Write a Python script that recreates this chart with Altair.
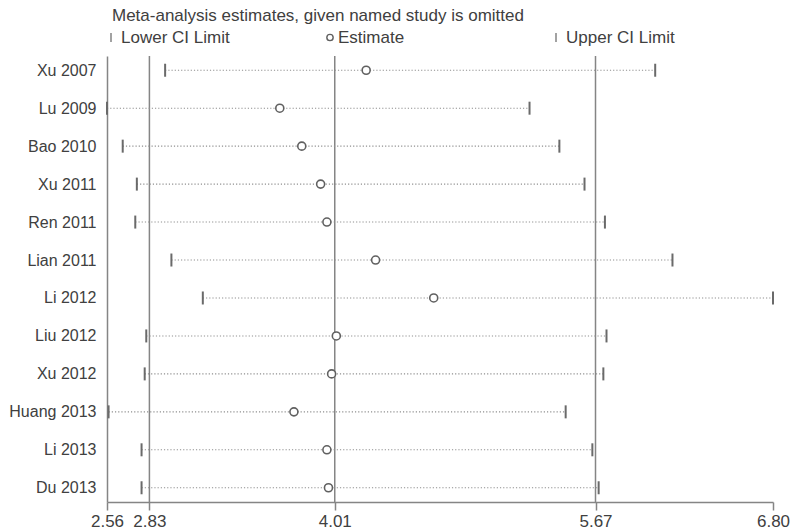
import altair as alt
import pandas as pd

# ---- data ----
studies = ["Xu 2007", "Lu 2009", "Bao 2010", "Xu 2011", "Ren 2011", "Lian 2011",
           "Li 2012", "Liu 2012", "Xu 2012", "Huang 2013", "Li 2013", "Du 2013"]
estimate = [4.21, 3.66, 3.80, 3.92, 3.96, 4.27, 4.64, 4.02, 3.99, 3.75, 3.96, 3.97]
lower = [2.93, 2.56, 2.66, 2.75, 2.74, 2.97, 3.17, 2.81, 2.80, 2.57, 2.78, 2.78]
upper = [6.05, 5.25, 5.44, 5.60, 5.73, 6.16, 6.80, 5.74, 5.72, 5.48, 5.65, 5.69]
ref_lines = [2.83, 4.01, 5.67]
x_ticks = [2.56, 2.83, 4.01, 5.67, 6.80]
title_text = "Meta-analysis estimates, given named study is omitted"
legend_labels = ["Lower CI Limit", "Estimate", "Upper CI Limit"]

FONT = "Liberation Sans"
TXT = "#404040"
LINE = "#858585"
CAP = "#6a6a6a"

df = pd.DataFrame({"study": studies, "estimate": estimate, "lower": lower, "upper": upper})
ref_df = pd.DataFrame({"v": ref_lines})

xscale = alt.Scale(domain=[2.56, 6.80], nice=False, zero=False)
yscale = alt.Scale(type="point", padding=0.375, domain=studies)
xaxis = alt.Axis(values=x_ticks, format=".2f", title=None, grid=False, tickSize=8,
                 labelPadding=3, labelFlush=False, labelFontSize=17)
yaxis = alt.Axis(title=None, grid=False, ticks=False, labelPadding=11, labelFontSize=16)

Y = alt.Y("study:N", scale=yscale, axis=yaxis, sort=studies)

refs = alt.Chart(ref_df).mark_rule(color=LINE, strokeWidth=1.5).encode(
    x=alt.X("v:Q", scale=xscale, axis=xaxis)
)

dots = alt.Chart(df).mark_rule(color="#8f8f8f", strokeWidth=1.1, strokeDash=[1.2, 2]).encode(
    x=alt.X("lower:Q", scale=xscale, axis=xaxis),
    x2="upper:Q",
    y=Y,
)

lo_caps = alt.Chart(df).mark_tick(color=CAP, size=13, thickness=2, opacity=1).encode(
    x=alt.X("lower:Q", scale=xscale, axis=xaxis), y=Y
)
up_caps = alt.Chart(df).mark_tick(color=CAP, size=13, thickness=2, opacity=1).encode(
    x=alt.X("upper:Q", scale=xscale, axis=xaxis), y=Y
)

pts = alt.Chart(df).mark_point(shape="circle", size=64, fill="white", fillOpacity=1,
                               stroke="#606060", strokeWidth=1.6, opacity=1).encode(
    x=alt.X("estimate:Q", scale=xscale, axis=xaxis), y=Y
)

one = pd.DataFrame({"d": [0]})

title = alt.Chart(pd.DataFrame({"t": [title_text]})).mark_text(
    align="left", baseline="alphabetic", fontSize=17, font=FONT, color=TXT
).encode(x=alt.value(5), y=alt.value(-35), text="t:N")

leg_lo_bar = alt.Chart(one).mark_rule(color="#707070", strokeWidth=1.3).encode(
    x=alt.value(4), y=alt.value(-23), y2=alt.value(-14))
leg_up_bar = alt.Chart(one).mark_rule(color="#707070", strokeWidth=1.3).encode(
    x=alt.value(449), y=alt.value(-23), y2=alt.value(-14))
leg_circle = alt.Chart(one).mark_point(shape="circle", size=40, fill="white", fillOpacity=1,
                                       stroke="#606060", strokeWidth=1.4, opacity=1).encode(
    x=alt.value(223), y=alt.value(-18.5))

def leg_text(label, xpos):
    return alt.Chart(pd.DataFrame({"t": [label]})).mark_text(
        align="left", baseline="alphabetic", fontSize=17, font=FONT, color=TXT
    ).encode(x=alt.value(xpos), y=alt.value(-13), text="t:N")

leg_t1 = leg_text(legend_labels[0], 14)
leg_t2 = leg_text(legend_labels[1], 231)
leg_t3 = leg_text(legend_labels[2], 459)

chart = alt.layer(
    refs, dots, lo_caps, up_caps, pts,
    title, leg_lo_bar, leg_up_bar, leg_circle, leg_t1, leg_t2, leg_t3
).properties(
    width=666, height=446,
    autosize=alt.AutoSizeParams(type="none"),
    padding={"left": 99, "top": 48, "right": 19, "bottom": 27},
).configure_view(stroke=None).configure_axis(
    labelFont=FONT, labelColor=TXT,
    domainColor=LINE, tickColor=LINE, domainWidth=1.5, tickWidth=1.5,
)

chart.save("out.html", embed_options={"renderer": "svg", "actions": False})
